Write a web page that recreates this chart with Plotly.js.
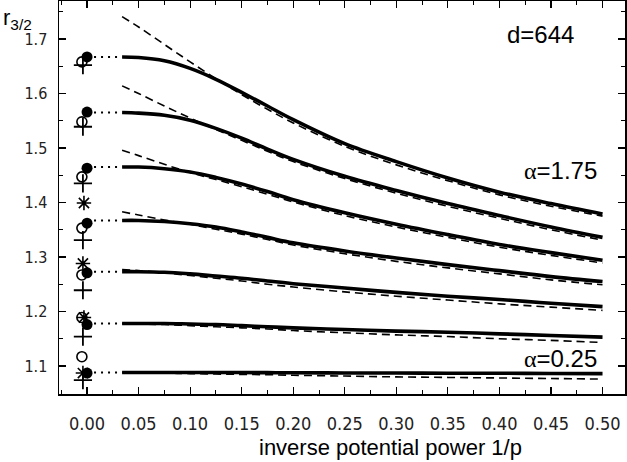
<!DOCTYPE html>
<html>
<head>
<meta charset="utf-8">
<script src="https://cdn.plot.ly/plotly-3.0.1.min.js"></script>
<style>
  html, body { margin: 0; padding: 0; background: #fff; }
  #chart { width: 627px; height: 462px; }
</style>
</head>
<body>
<div id="chart"></div>
<script>
// x grid of the curves (1/p)
var xCurve = [0.034, 0.05, 0.075, 0.1, 0.125, 0.15, 0.175, 0.2, 0.25, 0.3, 0.35, 0.4, 0.45, 0.5];

// thick solid curves, alpha = 1.75 ... 0.25
var solid175 = [1.667, 1.666, 1.660, 1.646, 1.626, 1.602, 1.577, 1.552, 1.508, 1.475, 1.445, 1.419, 1.398, 1.379];
var solid150 = [1.565, 1.564, 1.560, 1.551, 1.536, 1.518, 1.498, 1.479, 1.448, 1.422, 1.398, 1.376, 1.355, 1.336];
var solid125 = [1.465, 1.465, 1.462, 1.456, 1.446, 1.434, 1.420, 1.405, 1.381, 1.360, 1.341, 1.323, 1.308, 1.294];
var solid100 = [1.367, 1.367, 1.365, 1.361, 1.355, 1.346, 1.336, 1.326, 1.311, 1.298, 1.286, 1.275, 1.264, 1.255];
var solid075 = [1.273, 1.273, 1.272, 1.269, 1.265, 1.261, 1.256, 1.251, 1.243, 1.235, 1.228, 1.222, 1.215, 1.209];
var solid050 = [1.178, 1.178, 1.178, 1.177, 1.176, 1.174, 1.172, 1.170, 1.167, 1.164, 1.162, 1.159, 1.156, 1.153];
var solid025 = [1.088, 1.088, 1.088, 1.088, 1.088, 1.088, 1.0878, 1.0875, 1.0872, 1.087, 1.0868, 1.0866, 1.0863, 1.086];

// dashed curves
var dash175 = [1.741, 1.722, 1.690, 1.658, 1.627, 1.598, 1.571, 1.546, 1.503, 1.469, 1.440, 1.414, 1.393, 1.375];
var dash150 = [1.614, 1.600, 1.577, 1.555, 1.534, 1.514, 1.494, 1.475, 1.444, 1.417, 1.393, 1.371, 1.350, 1.331];
var dash125 = [1.496, 1.486, 1.470, 1.455, 1.442, 1.429, 1.415, 1.401, 1.376, 1.355, 1.336, 1.318, 1.303, 1.289];
var dash100 = [1.383, 1.377, 1.368, 1.360, 1.351, 1.342, 1.332, 1.322, 1.306, 1.292, 1.280, 1.269, 1.258, 1.249];
var dash075 = [1.277, 1.275, 1.271, 1.266, 1.261, 1.256, 1.250, 1.245, 1.236, 1.228, 1.221, 1.214, 1.208, 1.202];
var dash050 = [1.178, 1.177, 1.176, 1.174, 1.172, 1.170, 1.168, 1.165, 1.161, 1.157, 1.154, 1.150, 1.147, 1.143];
var dash025 = [1.088, 1.0877, 1.087, 1.086, 1.0853, 1.0846, 1.084, 1.083, 1.0815, 1.080, 1.079, 1.078, 1.077, 1.076];

// points at 1/p = 0
var xFilled = [0, 0, 0, 0, 0, 0, 0];
var yFilled = [1.667, 1.566, 1.463, 1.362, 1.271, 1.176, 1.087];
var xOpen = [-0.005, -0.005, -0.005, -0.005, -0.005, -0.005, -0.005];
var yOpen = [1.658, 1.548, 1.447, 1.353, 1.267, 1.189, 1.117];
var xPlus = [-0.004, -0.004, -0.004, -0.004, -0.004, -0.004, -0.004];
var yPlus = [1.652, 1.539, 1.435, 1.331, 1.239, 1.154, 1.074];
var xStar = [-0.003, -0.004, -0.003, -0.004];
var yStar = [1.399, 1.288, 1.189, 1.087];

var xTicks = [0, 0.05, 0.1, 0.15, 0.2, 0.25, 0.3, 0.35, 0.4, 0.45, 0.5];
var yTicks = [1.1, 1.2, 1.3, 1.4, 1.5, 1.6, 1.7];

var solids = [solid175, solid150, solid125, solid100, solid075, solid050, solid025];
var dashes = [dash175, dash150, dash125, dash100, dash075, dash050, dash025];

var traces = [];
dashes.forEach(function (d) {
  traces.push({x: xCurve, y: d, type: 'scatter', mode: 'lines', line: {color: '#000', width: 1.6, dash: '8px,5px', shape: 'spline'}, hoverinfo: 'skip'});
});
solids.forEach(function (s) {
  traces.push({x: xCurve, y: s, type: 'scatter', mode: 'lines', line: {color: '#000', width: 3.6, shape: 'spline'}, hoverinfo: 'skip'});
  // dotted link from the 1/p = 0 point to the curve start
  traces.push({x: [0, xCurve[0]], y: [s[0], s[0]], type: 'scatter', mode: 'lines', line: {color: '#000', width: 2, dash: '2px,5px'}, hoverinfo: 'skip'});
});
traces.push({x: xStar, y: yStar, type: 'scatter', mode: 'markers', marker: {symbol: 'asterisk-open', size: 12, color: '#000', line: {color: '#000', width: 1.6}}});
traces.push({x: xPlus, y: yPlus, type: 'scatter', mode: 'markers', marker: {symbol: 'cross-thin-open', size: 13, color: '#000', line: {color: '#000', width: 1.8}}});
traces.push({x: xOpen, y: yOpen, type: 'scatter', mode: 'markers', marker: {symbol: 'circle-open', size: 10, color: '#000', line: {color: '#000', width: 1.6}}});
traces.push({x: xFilled, y: yFilled, type: 'scatter', mode: 'markers', marker: {symbol: 'circle', size: 11, color: '#000'}});

var tickFont = {family: '"Liberation Sans Narrow", "DejaVu Sans Condensed", sans-serif', color: '#222'};
var textFont = {family: '"Liberation Sans", Arial, sans-serif', color: '#000', size: 24};

var layout = {
  width: 627,
  height: 462,
  margin: {l: 59, r: 2, t: 1, b: 68},
  showlegend: false,
  paper_bgcolor: '#fff',
  plot_bgcolor: '#fff',
  xaxis: {
    range: [-0.0272, 0.5218],
    tickvals: xTicks,
    tickformat: '.2f',
    ticks: 'inside',
    ticklen: 7,
    tickwidth: 1.2,
    tickcolor: '#000',
    minor: {dtick: 0.025, tick0: 0, ticks: 'inside', ticklen: 4, tickwidth: 1, tickcolor: '#000'},
    showline: true,
    linecolor: '#000',
    linewidth: 1.5,
    mirror: 'allticks',
    showgrid: false,
    zeroline: false,
    ticklabelstandoff: 13,
    tickfont: Object.assign({size: 18}, tickFont)
  },
  yaxis: {
    range: [1.0486, 1.7697],
    tickvals: yTicks,
    tickformat: '.1f',
    ticks: 'inside',
    ticklen: 7,
    tickwidth: 1.2,
    tickcolor: '#000',
    minor: {dtick: 0.05, tick0: 1.05, ticks: 'inside', ticklen: 4, tickwidth: 1, tickcolor: '#000'},
    showline: true,
    linecolor: '#000',
    linewidth: 1.5,
    mirror: 'allticks',
    showgrid: false,
    zeroline: false,
    ticklabelstandoff: 7,
    tickfont: Object.assign({size: 16}, tickFont)
  },
  annotations: [
    {xref: 'paper', yref: 'paper', x: 0.585, y: -0.135, text: 'inverse potential power 1/p', showarrow: false, xanchor: 'center', yanchor: 'middle', font: {family: textFont.family, size: 22, color: '#000'}},
    {xref: 'paper', yref: 'paper', x: -0.102, y: 0.955, text: 'r<sub>3/2</sub>', showarrow: false, xanchor: 'left', yanchor: 'middle', font: {family: textFont.family, size: 22, color: '#000'}},
    {x: 0.44, y: 1.709, text: 'd=644', showarrow: false, xanchor: 'center', yanchor: 'middle', font: textFont},
    {x: 0.459, y: 1.458, text: '<span style="font-family:Liberation Serif">α</span>=1.75', showarrow: false, xanchor: 'center', yanchor: 'middle', font: textFont},
    {x: 0.459, y: 1.114, text: '<span style="font-family:Liberation Serif">α</span>=0.25', showarrow: false, xanchor: 'center', yanchor: 'middle', font: textFont}
  ]
};

Plotly.newPlot('chart', traces, layout, {staticPlot: true, displayModeBar: false});
</script>
</body>
</html>
